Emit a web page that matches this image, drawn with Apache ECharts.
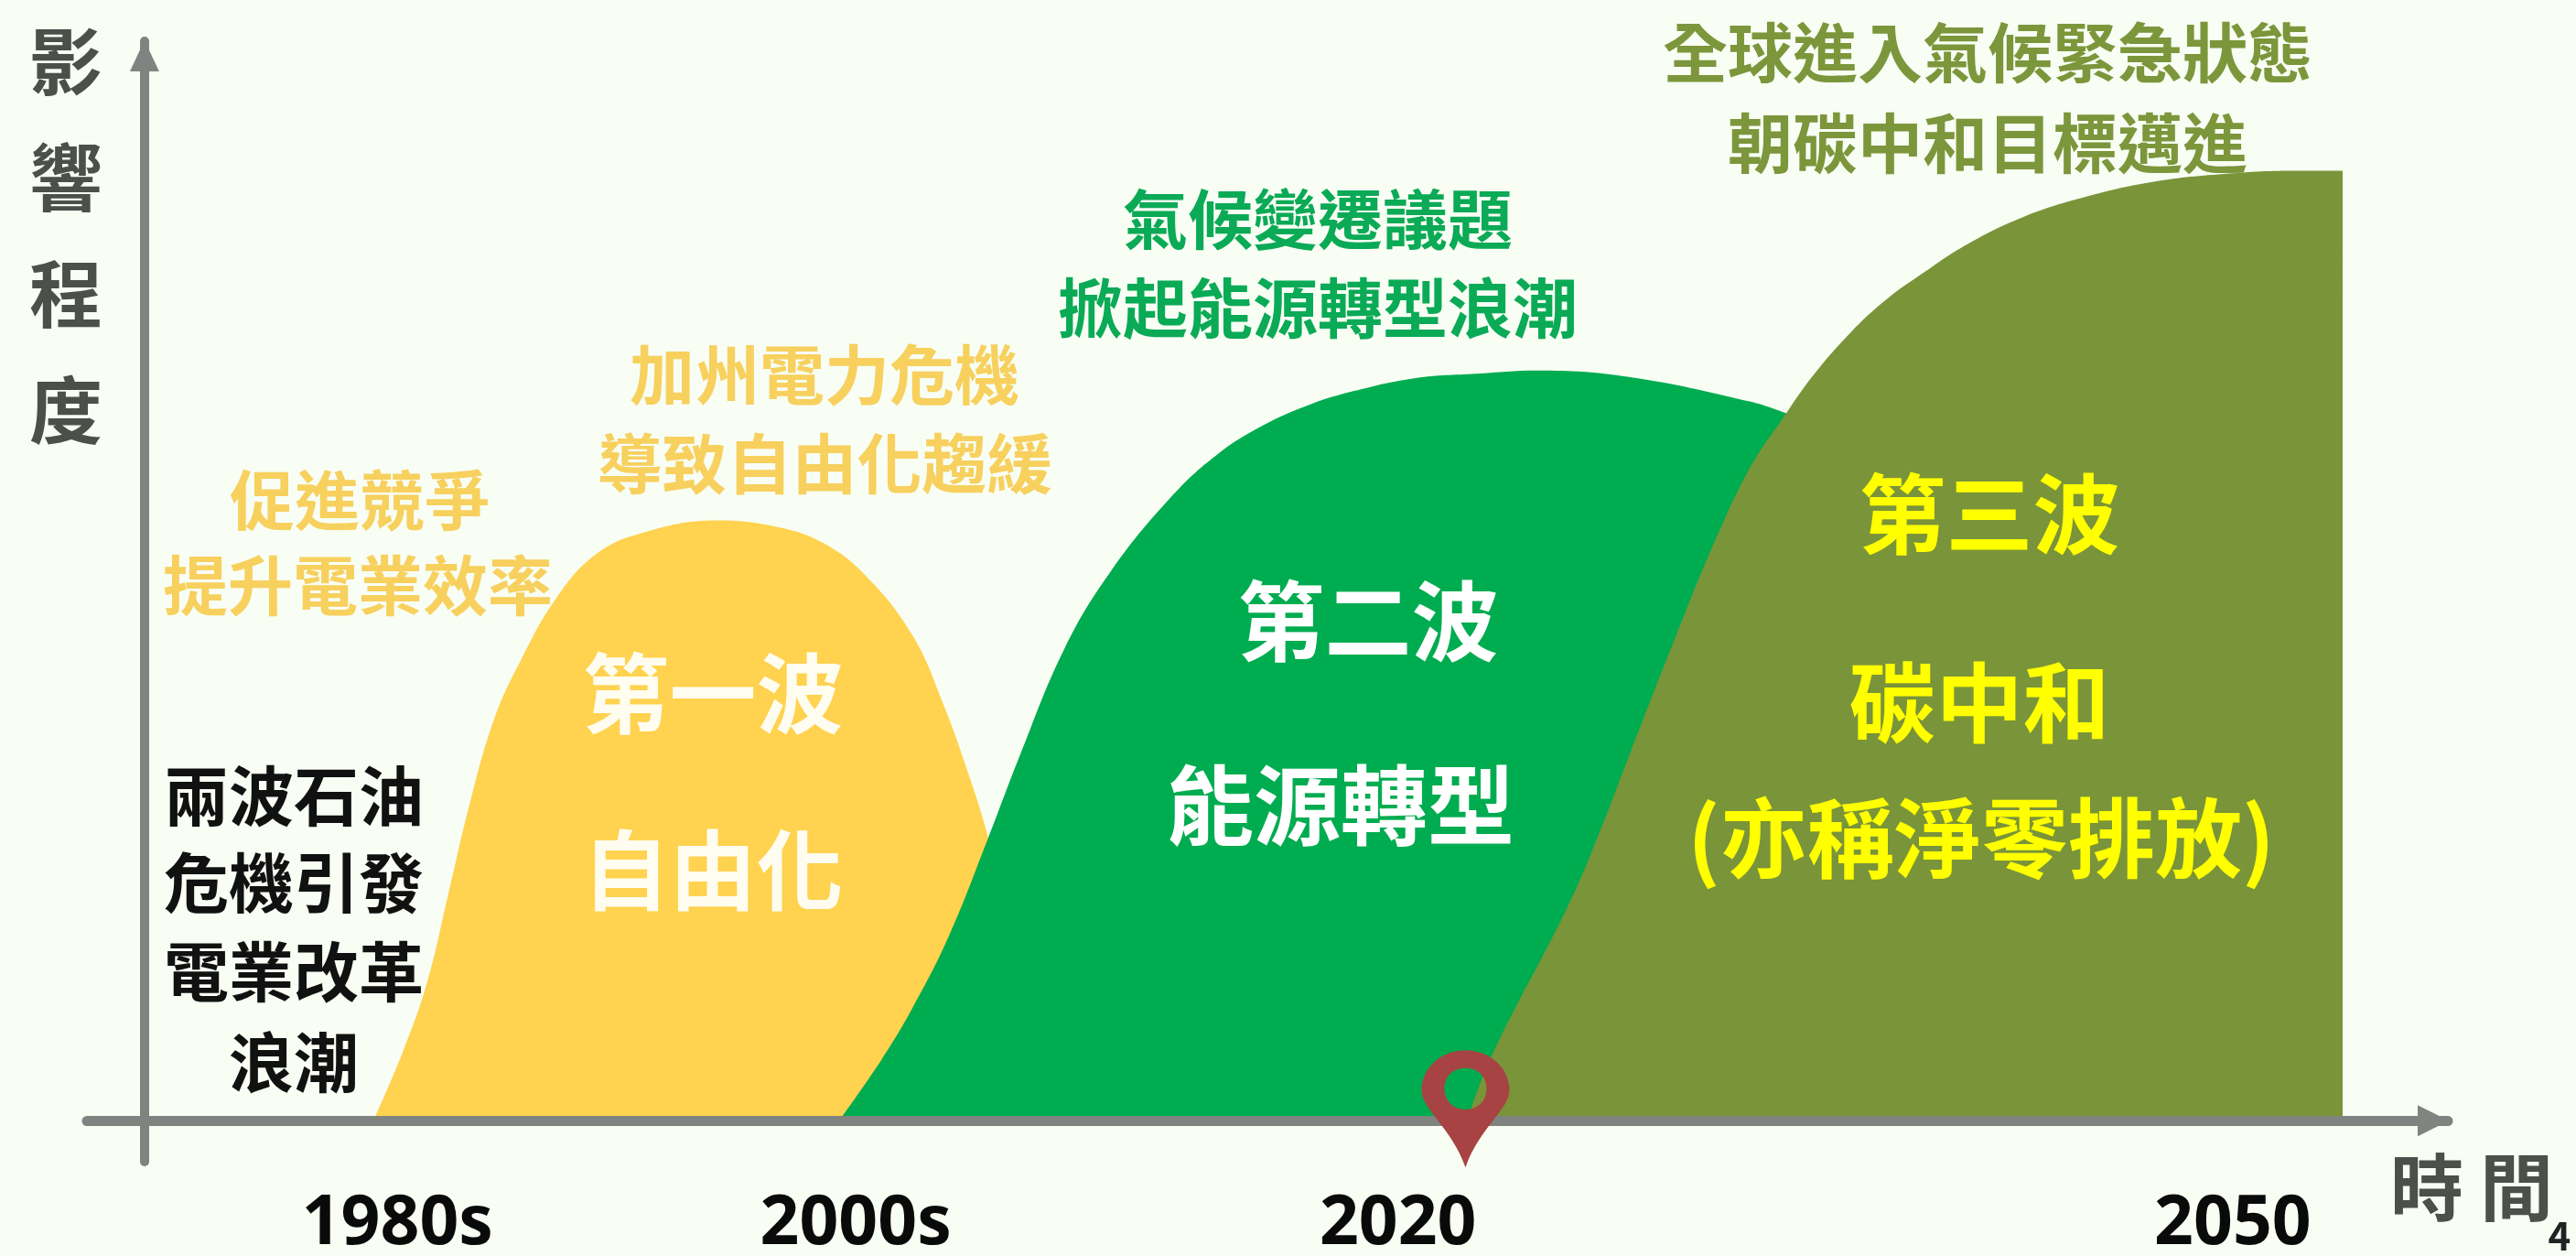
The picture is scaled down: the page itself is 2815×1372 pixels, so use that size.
<!DOCTYPE html>
<html lang="zh-Hant">
<head>
<meta charset="utf-8">
<title>電業發展三波浪潮</title>
<style>
html, body { margin: 0; padding: 0; background: #F8FEF4; }
#chart { width: 2815px; height: 1372px; }
</style>
<script src="https://cdn.jsdelivr.net/npm/echarts@6/dist/echarts.min.js"></script>
</head>
<body>
<div id="chart"></div>
<script>
// Timeline position (0-100 along the horizontal axis) and influence level (0-100)
const firstWaveX = [9.93, 11.2, 12.28, 13.19, 14.1, 15.18, 16.37, 17.84, 19.55, 21.53, 24.83, 27.49, 29.48, 31.35, 33.33, 34.64, 35.84, 36.63, 37.82, 39.41];
const firstWaveY = [0, 6.3, 12.9, 21.0, 29.2, 37.2, 42.8, 48.3, 52.4, 54.4, 55.6, 55.0, 53.5, 50.4, 45.0, 38.8, 31.7, 26.2, 15.6, 0];

const secondWaveX = [30.15, 31.98, 33.33, 34.92, 36.63, 37.94, 39.93, 41.92, 44.58, 46.56, 48.55, 50.54, 52.52, 55.19, 57.81, 60.47, 64.44, 69.73, 71.3];
const secondWaveY = [0, 5.6, 10.4, 17.1, 26.2, 33.5, 43.7, 50.8, 57.8, 61.7, 64.4, 66.3, 67.6, 68.8, 69.2, 69.5, 68.9, 66.6, 65.5];

const thirdWaveX = [57.42, 58.48, 61.78, 63.13, 64.72, 66.43, 68.14, 69.73, 71.12, 72.43, 74.06, 75.64, 77.27, 78.9, 81.33, 83.79, 87.01, 90.27, 93.49, 95.43];
const thirdWaveY = [0, 6.0, 19.8, 26.5, 35.3, 44.6, 53.5, 60.6, 65.05, 69.0, 73.0, 76.1, 78.6, 80.9, 83.5, 85.3, 86.9, 87.7, 88.0, 88.0];

const tickPositions = [10.98, 30.88, 54.42, 90.66];
const tickLabels = ['1980s', '2000s', '2020', '2050'];
const todayMarker = [[57.35, 0]];

const zip = (xs, ys) => xs.map((x, i) => [x, ys[i]]);

const FONT = '"Noto Sans CJK TC", "Noto Sans", sans-serif';
const AXIS_GREY = '#7F8480';
const TITLE_GREY = '#4B504A';
const AMBER = '#F7D05E';
const GREEN = '#0BAA56';
const OLIVE = '#7C963B';

// Wave captions and descriptions: [text, x, y, size, colour]
const captions = [
  ['促進競爭', 393, 546, 71, AMBER],
  ['提升電業效率', 391, 639, 71, AMBER],
  ['加州電力危機', 901, 409, 71, AMBER],
  ['導致自由化趨緩', 901, 506, 71, AMBER],
  ['氣候變遷議題', 1440, 239, 71, GREEN],
  ['掀起能源轉型浪潮', 1440, 336, 71, GREEN],
  ['全球進入氣候緊急狀態', 2172, 57, 71, OLIVE],
  ['朝碳中和目標邁進', 2172, 156, 71, OLIVE],
  ['第一波', 779, 758, 95, '#FFFDF0'],
  ['自由化', 779, 951, 95, '#FFFDF0'],
  ['第二波', 1495, 679, 95, '#FFFFFF'],
  ['能源轉型', 1465, 880, 95, '#FFFFFF'],
  ['第三波', 2174, 562, 95, '#FFFF00'],
  ['碳中和', 2163, 768, 95, '#FFFF00'],
  ['(亦稱淨零排放)', 2165, 916, 95, '#FFFF00'],
  ['兩波石油', 321, 869, 71, '#111111'],
  ['危機引發', 321, 964, 71, '#111111'],
  ['電業改革', 321, 1061, 71, '#111111'],
  ['浪潮', 321, 1160, 71, '#111111'],
  ['4', 2797, 1350, 42, '#222222']
];

const wave = (name, xs, ys, color) => ({
  name,
  type: 'line',
  z: 1,
  smooth: 0.4,
  showSymbol: false,
  silent: true,
  lineStyle: { width: 0 },
  itemStyle: { color },
  areaStyle: { color, opacity: 1 },
  data: zip(xs, ys)
});

// Map pin with a see-through centre
const PIN = 'path://M50 0C78 0 100 26 100 58C100 86 66 112 50 170C34 112 0 86 0 58C0 26 22 0 50 0Z' +
  'M50 26C36 26 26 38 26 56C26 74 36 86 50 86C64 86 74 74 74 56C74 38 64 26 50 26Z';

const chart = echarts.init(document.getElementById('chart'), null, { renderer: 'canvas' });
chart.setOption({
  animation: false,
  backgroundColor: '#F8FEF4',
  grid: { left: 95, right: 140, top: 45, bottom: 103, containLabel: false, outerBoundsMode: 'none' },
  xAxis: {
    type: 'value',
    min: -2.5,
    max: 100,
    z: 2,
    splitLine: { show: false },
    axisTick: { show: false },
    axisLine: {
      onZero: true,
      symbol: ['none', 'triangle'],
      symbolSize: [34, 34],
      symbolOffset: [0, -16],
      lineStyle: { color: AXIS_GREY, width: 11 }
    },
    axisLabel: {
      customValues: tickPositions,
      formatter: value => tickLabels[tickPositions.indexOf(value)],
      margin: 31,
      fontFamily: '"Noto Sans", sans-serif',
      fontWeight: 'bold',
      fontSize: 75,
      color: '#0A0A0A'
    },
    name: '時 間',
    nameLocation: 'end',
    nameGap: 26,
    nameMoveOverlap: false,
    nameTextStyle: {
      fontFamily: FONT,
      fontWeight: 'bold',
      fontSize: 80,
      color: TITLE_GREY,
      align: 'center',
      verticalAlign: 'top',
      padding: [32, 0, 0, 0]
    }
  },
  yAxis: {
    type: 'value',
    min: -3.8,
    max: 100,
    z: 2,
    splitLine: { show: false },
    axisTick: { show: false },
    axisLabel: { show: false },
    axisLine: {
      onZero: true,
      symbol: ['none', 'triangle'],
      symbolSize: [32, 34],
      symbolOffset: [0, -16],
      lineStyle: { color: AXIS_GREY, width: 10 }
    },
    name: '影\n響\n程\n度',
    nameLocation: 'end',
    nameGap: 42,
    nameMoveOverlap: false,
    nameTextStyle: {
      fontFamily: FONT,
      fontWeight: 'bold',
      fontSize: 80,
      lineHeight: 127,
      color: TITLE_GREY,
      align: 'right',
      verticalAlign: 'top',
      padding: [0, 46, 0, 0]
    }
  },
  series: [
    wave('第一波', firstWaveX, firstWaveY, '#FFD24F'),
    wave('第二波', secondWaveX, secondWaveY, '#00AC50'),
    wave('第三波', thirdWaveX, thirdWaveY, '#7A9439'),
    {
      name: '2020',
      type: 'scatter',
      z: 3,
      silent: true,
      symbol: PIN,
      symbolKeepAspect: false,
      symbolSize: [96, 128],
      symbolOffset: [0, -13],
      itemStyle: { color: '#A84343', opacity: 1 },
      data: todayMarker
    }
  ],
  graphic: captions.map(([text, x, y, size, fill]) => ({
    type: 'text',
    x,
    y,
    z: 10,
    silent: true,
    style: {
      text,
      fill,
      font: `bold ${size}px ${FONT}`,
      textAlign: 'center',
      textVerticalAlign: 'middle'
    }
  }))
});
</script>
</body>
</html>
